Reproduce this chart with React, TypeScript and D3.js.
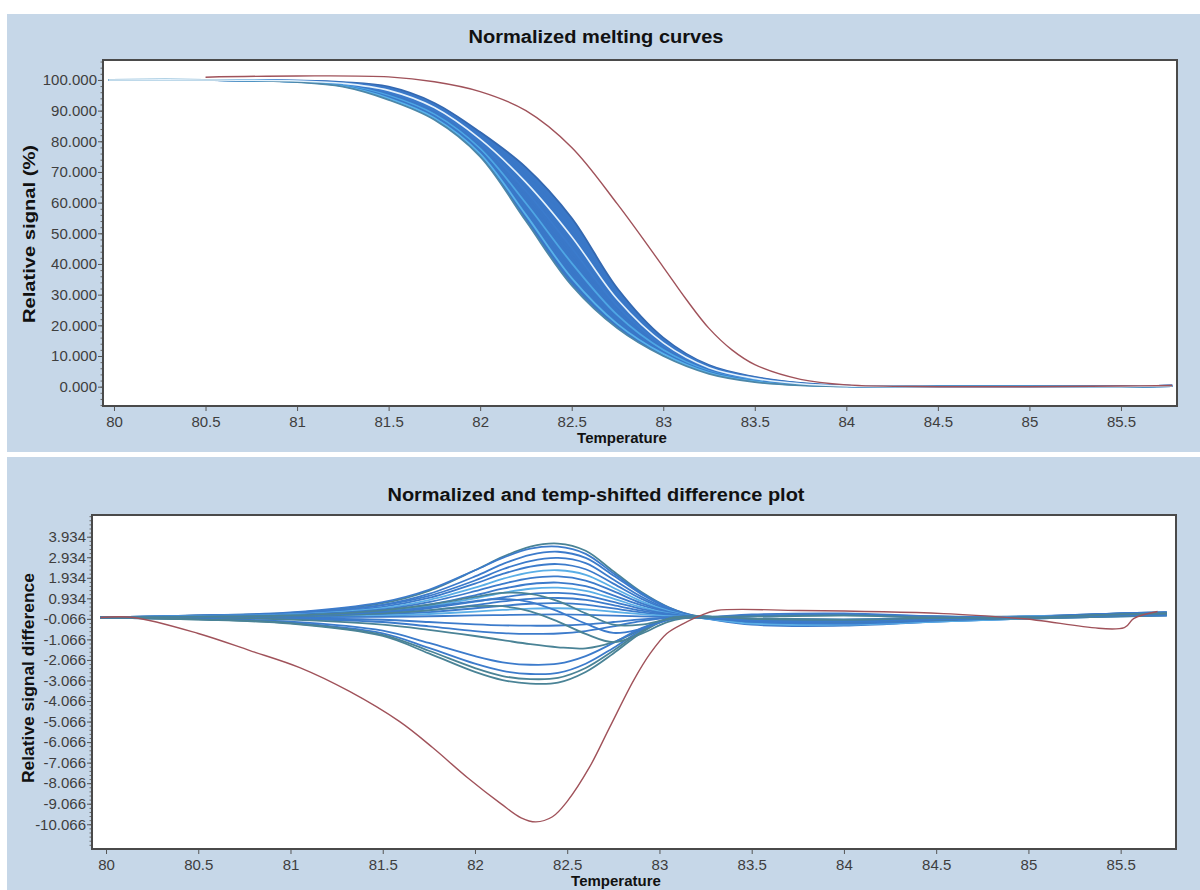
import React, { useEffect, useRef } from 'react';
import * as d3 from 'd3';

const W = 1200;
const H = 890;
const FONT = 'Liberation Sans, Arial, sans-serif';
const PANEL_BG = '#c6d7e8';

// shared temperature ticks
const tempTicks = [80, 80.5, 81, 81.5, 82, 82.5, 83, 83.5, 84, 84.5, 85, 85.5];

// ---- top panel: normalized melting curves ----
const meltYTicks = [0, 10, 20, 30, 40, 50, 60, 70, 80, 90, 100];
const meltTemps = [79.97, 80.5, 81.0, 81.25, 81.5, 81.75, 82.0, 82.25, 82.5, 82.75, 83.0, 83.25, 83.5, 83.75, 84.0, 84.5, 85.0, 85.5, 85.78];
// blue bundle, from earliest to latest melting sample
const meltCurves = [
  [100, 100, 99.3, 97.8, 93.5, 87, 75, 54, 33, 19, 10, 4.2, 1.5, 0.4, 0.1, 0, 0, 0, 0.2],
  [100, 100, 99.35, 97.95, 94, 87.6, 75.9, 56, 35.4, 20.4, 10.7, 4.5, 1.7, 0.5, 0.1, 0, 0, 0, 0.2],
  [100, 100, 99.4, 98.1, 94.5, 88.2, 76.8, 57.9, 37.9, 21.9, 11.3, 4.8, 1.9, 0.6, 0.1, 0, 0, 0, 0.2],
  [100, 100, 99.45, 98.3, 94.9, 88.8, 77.6, 59.8, 40.3, 23.3, 12, 5.1, 2.1, 0.7, 0.2, 0, 0, 0, 0.2],
  [100, 100, 99.5, 98.5, 95.4, 89.5, 78.5, 61.8, 42.8, 24.8, 12.7, 5.4, 2.3, 0.8, 0.2, 0, 0, 0, 0.2],
  [100, 100, 99.55, 98.6, 95.9, 90.1, 79.4, 63.8, 45.2, 26.2, 13.3, 5.8, 2.5, 0.9, 0.2, 0, 0, 0, 0.3],
  [100, 100, 99.6, 98.8, 96.4, 90.7, 80.3, 65.7, 47.7, 27.7, 14, 6.1, 2.6, 0.9, 0.2, 0, 0, 0, 0.3],
  [100, 100, 99.7, 99.0, 96.9, 91.3, 81.2, 67.6, 50.1, 29.1, 14.7, 6.4, 2.8, 1.0, 0.3, 0, 0, 0, 0.3],
  [100, 100, 99.75, 99.15, 97.3, 91.9, 82.1, 69.6, 52.6, 30.6, 15.3, 6.7, 3.0, 1.1, 0.3, 0, 0, 0, 0.3],
  [100, 100, 99.8, 99.3, 97.8, 92.5, 83, 71.5, 55, 32, 16, 7, 3.2, 1.2, 0.3, 0, 0, 0, 0.3],
];
const meltPale = [100, 100, 99.65, 98.9, 96.6, 91, 80.7, 66.6, 48.9, 28.4, 14.3, 6.2, 2.7, 0.95, 0.25, 0, 0, 0, 0.3];
const redMeltTemps = [80.5, 81.0, 81.5, 81.75, 82.0, 82.25, 82.5, 82.75, 83.0, 83.125, 83.25, 83.375, 83.5, 83.75, 84.0, 84.5, 85.0, 85.5, 85.78];
const redMeltValues = [100.9, 101.3, 101.0, 99.4, 96.2, 90, 78, 59.5, 39, 28.5, 19, 12, 7.2, 2.4, 0.6, 0, 0, 0.2, 0.4];

// ---- bottom panel: difference plot ----
const diffYTicks = [3.934, 2.934, 1.934, 0.934, -0.066, -1.066, -2.066, -3.066, -4.066, -5.066, -6.066, -7.066, -8.066, -9.066, -10.066];
const diffTemps = [79.97, 80.5, 81.0, 81.5, 81.75, 82.0, 82.15, 82.3, 82.45, 82.6, 82.75, 82.9, 83.05, 83.2, 83.5, 84.0, 84.5, 85.0, 85.5, 85.75];
const diffCurves = [
  [0, 0.1, 0.22, 0.7, 1.3, 2.3, 2.95, 3.45, 3.6, 3.25, 2.25, 1.25, 0.5, 0.08, 0.05, 0.1, 0.05, 0.05, 0.2, 0.25],
  [0, 0.1, 0.25, 0.75, 1.35, 2.3, 2.9, 3.35, 3.45, 3.1, 2.15, 1.2, 0.48, 0.06, -0.1, -0.15, -0.05, 0.05, 0.2, 0.25],
  [0, 0.09, 0.2, 0.62, 1.15, 2.0, 2.6, 3.05, 3.2, 2.9, 2.05, 1.15, 0.45, 0.05, 0.1, 0.15, 0.05, 0.0, 0.15, 0.2],
  [0, 0.09, 0.2, 0.6, 1.05, 1.8, 2.35, 2.75, 2.9, 2.65, 1.85, 1.02, 0.4, 0.04, -0.05, -0.1, 0.0, 0.05, 0.2, 0.25],
  [0, 0.08, 0.17, 0.52, 0.95, 1.65, 2.12, 2.48, 2.6, 2.35, 1.65, 0.92, 0.36, 0.04, -0.2, -0.25, -0.1, 0.0, 0.15, 0.2],
  [0, 0.07, 0.15, 0.46, 0.85, 1.45, 1.88, 2.2, 2.3, 2.08, 1.45, 0.8, 0.32, 0.03, -0.1, -0.15, -0.05, 0.05, 0.1, 0.15],
  [0, 0.06, 0.13, 0.4, 0.75, 1.28, 1.64, 1.92, 2.0, 1.8, 1.28, 0.7, 0.28, 0.03, -0.25, -0.3, -0.15, 0.0, 0.1, 0.1],
  [0, 0.05, 0.11, 0.34, 0.63, 1.08, 1.4, 1.63, 1.7, 1.53, 1.08, 0.6, 0.24, 0.02, 0.15, 0.2, 0.05, 0.0, 0.15, 0.2],
  [0, 0.05, 0.1, 0.3, 0.55, 0.93, 1.2, 1.4, 1.45, 1.3, 0.92, 0.5, 0.2, 0.02, -0.3, -0.35, -0.2, -0.05, 0.05, 0.1],
  [0, 0.04, 0.08, 0.24, 0.45, 0.77, 0.98, 1.15, 1.2, 1.08, 0.76, 0.42, 0.17, 0.02, -0.2, -0.25, -0.1, 0.0, 0.1, 0.15],
  [0, 0.03, 0.06, 0.19, 0.35, 0.6, 0.78, 0.91, 0.95, 0.86, 0.6, 0.33, 0.13, 0.01, -0.35, -0.4, -0.2, -0.05, 0.05, 0.1],
  [0, 0.02, 0.05, 0.14, 0.26, 0.45, 0.57, 0.67, 0.7, 0.63, 0.44, 0.25, 0.1, 0.01, -0.25, -0.3, -0.15, 0.0, 0.15, 0.2],
  [0, 0.01, 0.03, 0.09, 0.17, 0.29, 0.37, 0.43, 0.45, 0.4, 0.28, 0.16, 0.06, 0.0, -0.3, -0.35, -0.2, -0.05, 0.1, 0.15],
  [0, 0.0, 0.01, 0.03, 0.06, 0.1, 0.12, 0.14, 0.15, 0.13, 0.09, 0.05, 0.02, 0.0, -0.2, -0.3, -0.15, 0.0, 0.2, 0.25],
  [0, -0.01, -0.04, -0.11, -0.22, -0.33, -0.38, -0.4, -0.39, -0.33, -0.22, -0.09, -0.01, 0.01, -0.15, -0.2, -0.1, 0.0, 0.1, 0.15],
  [0, -0.02, -0.07, -0.22, -0.43, -0.66, -0.76, -0.8, -0.78, -0.66, -0.43, -0.18, -0.02, 0.02, -0.1, -0.15, -0.05, 0.0, 0.1, 0.15],
  [0, -0.03, -0.1, -0.35, -0.6, -0.9, -1.1, -1.3, -1.45, -1.5, -1.2, -0.6, -0.1, 0.0, -0.1, -0.15, -0.1, 0.0, 0.1, 0.15],
  [0, -0.07, -0.2, -0.64, -1.24, -1.88, -2.18, -2.3, -2.25, -1.88, -1.24, -0.53, -0.05, 0.05, -0.05, -0.1, -0.05, 0.0, 0.1, 0.15],
  [0, -0.08, -0.25, -0.77, -1.48, -2.25, -2.6, -2.75, -2.7, -2.25, -1.48, -0.63, -0.05, 0.05, -0.1, -0.15, -0.1, 0.0, 0.1, 0.2],
  [0, -0.09, -0.27, -0.84, -1.62, -2.46, -2.85, -3.0, -2.94, -2.46, -1.62, -0.69, -0.06, 0.05, -0.1, -0.15, -0.1, -0.05, 0.05, 0.1],
  [0, -0.1, -0.3, -0.9, -1.75, -2.65, -3.05, -3.22, -3.17, -2.65, -1.75, -0.75, -0.05, 0.05, -0.05, -0.1, -0.05, 0.0, 0.15, 0.2],
  [0, 0.02, 0.05, 0.2, 0.35, 0.55, 0.55, 0.3, -0.2, -0.8, -1.2, -0.8, -0.2, 0.02, -0.1, -0.2, -0.1, 0.0, 0.1, 0.15],
  [0, 0.03, 0.08, 0.28, 0.5, 0.8, 0.9, 0.75, 0.3, -0.3, -0.75, -0.55, -0.12, 0.02, -0.15, -0.2, -0.1, 0.0, 0.1, 0.1],
  [0, 0.04, 0.1, 0.35, 0.62, 1.0, 1.2, 1.15, 0.8, 0.2, -0.35, -0.35, -0.08, 0.02, 0.05, 0.1, 0.0, 0.0, 0.15, 0.2],
];
const redDiffTemps = [79.97, 80.15, 80.5, 80.78, 81.05, 81.32, 81.59, 81.77, 81.96, 82.14, 82.25, 82.33, 82.42, 82.5, 82.62, 82.73, 82.86, 82.95, 83.04, 83.13, 83.22, 83.31, 83.76, 84.54, 84.96, 85.52, 85.57, 85.7];
const redDiffValues = [0, 0, -0.78, -1.61, -2.44, -3.6, -5.06, -6.33, -7.8, -9.06, -9.75, -9.95, -9.7, -8.95, -7.3, -5.35, -3.06, -1.75, -0.78, -0.3, 0.09, 0.34, 0.34, 0.19, -0.05, -0.49, -0.05, 0.29];

// line colours (styles kept apart from the data)
const meltColors = ['#4d87a8', '#58b2ea', '#3a78c8', '#4ea6e4', '#3a78c8', '#3b7bcc', '#3a78c8', '#3a78c8', '#3a78c8', '#3468b0'];
const diffColors = [
  '#4a8396', '#3c7bcb', '#3c7bcb', '#3c7bcb', '#3c7bcb', '#5aaee6', '#3c7bcb', '#3c7bcb',
  '#5aaee6', '#3c7bcb', '#3c7bcb', '#3c7bcb', '#5aaee6', '#3c7bcb', '#3c7bcb', '#3c7bcb',
  '#4a8396', '#3c7bcb', '#3c7bcb', '#4a8396', '#4a8396', '#4a8396', '#3c7bcb', '#4a8396',
];
const RED = '#a0525a';

function drawPanel(svg, cfg) {
  const g = svg.append('g');
  g.append('rect')
    .attr('x', cfg.bg[0]).attr('y', cfg.bg[1])
    .attr('width', cfg.bg[2]).attr('height', cfg.bg[3])
    .attr('fill', PANEL_BG);

  const [x0, x1, y0, y1] = cfg.box;
  const x = d3.scaleLinear().domain(cfg.xDomain).range([x0, x1]);
  const y = d3.scaleLinear().domain(cfg.yDomain).range([y1, y0]);

  g.append('rect')
    .attr('x', x0).attr('y', y0)
    .attr('width', x1 - x0).attr('height', y1 - y0)
    .attr('fill', '#ffffff');

  g.append('clipPath').attr('id', `${cfg.id}-clip`)
    .append('rect')
    .attr('x', x0).attr('y', y0)
    .attr('width', x1 - x0).attr('height', y1 - y0);
  const plot = g.append('g').attr('clip-path', `url(#${cfg.id}-clip)`);

  // minor ticks on the y axis
  g.append('g')
    .attr('transform', `translate(${x0},0)`)
    .attr('color', '#6a6a6a')
    .call(d3.axisLeft(y).tickValues(cfg.minor).tickSize(2.5).tickFormat(() => ''))
    .call((s) => s.select('.domain').remove());

  const ya = g.append('g')
    .attr('transform', `translate(${x0},0)`)
    .call(d3.axisLeft(y).tickValues(cfg.yTicks).tickSize(5).tickPadding(1)
      .tickFormat((d) => Number(d).toFixed(3)));
  const xa = g.append('g')
    .attr('transform', `translate(0,${y1})`)
    .call(d3.axisBottom(x).tickValues(tempTicks).tickSize(5).tickPadding(5)
      .tickFormat((d) => String(d)));
  [ya, xa].forEach((a) => {
    a.select('.domain').remove();
    a.attr('font-family', FONT).attr('font-size', 15).attr('color', '#3e3e3e');
    a.selectAll('line').attr('stroke', '#555');
  });

  // frame
  g.append('rect')
    .attr('x', x0).attr('y', y0)
    .attr('width', x1 - x0).attr('height', y1 - y0)
    .attr('fill', 'none')
    .attr('stroke', '#4a4a4a')
    .attr('stroke-width', 2);

  g.append('text')
    .attr('x', cfg.title.x).attr('y', cfg.title.y)
    .attr('text-anchor', 'middle')
    .attr('font-family', FONT).attr('font-weight', 'bold').attr('font-size', 18)
    .attr('textLength', cfg.title.len).attr('lengthAdjust', 'spacingAndGlyphs')
    .attr('fill', '#111')
    .text(cfg.title.text);

  g.append('text')
    .attr('transform', `translate(${cfg.yLabel.x},${cfg.yLabel.y}) rotate(-90)`)
    .attr('text-anchor', 'middle')
    .attr('font-family', FONT).attr('font-weight', 'bold').attr('font-size', 16.5)
    .attr('textLength', cfg.yLabel.len).attr('lengthAdjust', 'spacingAndGlyphs')
    .attr('fill', '#111')
    .text(cfg.yLabel.text);

  g.append('text')
    .attr('x', cfg.xLabel.x).attr('y', cfg.xLabel.y)
    .attr('text-anchor', 'middle')
    .attr('font-family', FONT).attr('font-weight', 'bold').attr('font-size', 15)
    .attr('fill', '#111')
    .text('Temperature');

  return { x, y, plot };
}

export default function App() {
  const ref = useRef(null);

  useEffect(() => {
    const svg = d3.select(ref.current);
    svg.selectAll('*').remove();
    svg.append('rect').attr('width', W).attr('height', H).attr('fill', '#ffffff');
    const smooth = d3.curveCatmullRom.alpha(0.5);

    // ----- top: melting curves -----
    const top = drawPanel(svg, {
      id: 'melt',
      bg: [7, 14, 1193, 438],
      box: [103, 1177, 60, 406],
      xDomain: [79.94, 85.806],
      yDomain: [-6.3, 106.5],
      yTicks: meltYTicks,
      minor: d3.range(-6, 107, 2),
      title: { text: 'Normalized melting curves', x: 596, y: 43, len: 255 },
      yLabel: { text: 'Relative signal (%)', x: 35, y: 234, len: 178 },
      xLabel: { x: 622, y: 443 },
    });

    const meltLine = d3.line()
      .x((_, i) => top.x(meltTemps[i]))
      .y((d) => top.y(d))
      .curve(smooth);

    const early = meltCurves[0];
    const late = meltCurves[meltCurves.length - 1];
    top.plot.append('path')
      .datum(meltTemps)
      .attr('d', d3.area()
        .x((d) => top.x(d))
        .y0((_, i) => top.y(early[i]))
        .y1((_, i) => top.y(late[i]))
        .curve(smooth))
      .attr('fill', '#3a78c8');

    meltCurves.slice().reverse().forEach((c, ri) => {
      const i = meltCurves.length - 1 - ri;
      top.plot.append('path')
        .datum(c)
        .attr('d', meltLine)
        .attr('fill', 'none')
        .attr('stroke', meltColors[i])
        .attr('stroke-width', 1.8);
    });
    top.plot.append('path')
      .datum(meltPale)
      .attr('d', meltLine)
      .attr('fill', 'none')
      .attr('stroke', '#e4f2fc')
      .attr('stroke-width', 1.6);

    top.plot.append('path')
      .datum(redMeltValues)
      .attr('d', d3.line()
        .x((_, i) => top.x(redMeltTemps[i]))
        .y((d) => top.y(d))
        .curve(smooth))
      .attr('fill', 'none')
      .attr('stroke', RED)
      .attr('stroke-width', 1.4);

    // ----- bottom: difference plot -----
    const bot = drawPanel(svg, {
      id: 'diff',
      bg: [7, 457, 1193, 433],
      box: [92, 1176, 515, 849],
      xDomain: [79.924, 85.8],
      yDomain: [-11.27, 4.99],
      yTicks: diffYTicks,
      minor: d3.range(-11.066, 4.99, 0.2),
      title: { text: 'Normalized and temp-shifted difference plot', x: 596, y: 501, len: 417 },
      yLabel: { text: 'Relative signal difference', x: 34, y: 678, len: 210 },
      xLabel: { x: 616, y: 886 },
    });

    const diffLine = d3.line()
      .x((_, i) => bot.x(diffTemps[i]))
      .y((d) => bot.y(d))
      .curve(smooth);

    diffCurves.forEach((c, i) => {
      bot.plot.append('path')
        .datum(c)
        .attr('d', diffLine)
        .attr('fill', 'none')
        .attr('stroke', diffColors[i])
        .attr('stroke-width', 1.8);
    });

    bot.plot.append('path')
      .datum(redDiffValues)
      .attr('d', d3.line()
        .x((_, i) => bot.x(redDiffTemps[i]))
        .y((d) => bot.y(d))
        .curve(smooth))
      .attr('fill', 'none')
      .attr('stroke', RED)
      .attr('stroke-width', 1.4);
  }, []);

  return (
    <div style={{ position: 'absolute', left: 0, top: 0 }}>
      <svg ref={ref} width={W} height={H} />
    </div>
  );
}
